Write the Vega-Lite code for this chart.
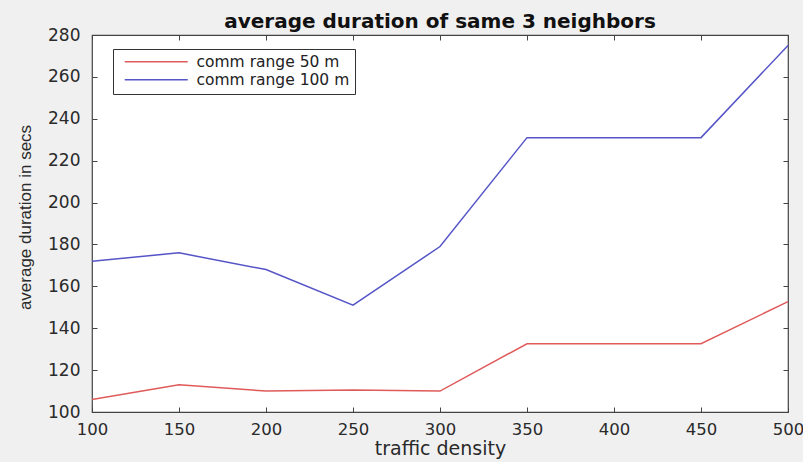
{
  "$schema": "https://vega.github.io/schema/vega-lite/v6.json",
  "width": 696,
  "height": 377,
  "autosize": {"type": "none"},
  "padding": {"left": 92, "top": 35, "right": 15, "bottom": 50},
  "background": "#f0f0f0",
  "title": {"text": "average duration of same 3 neighbors", "font": "DejaVu Sans", "fontSize": 20, "fontWeight": "bold", "color": "#111111", "offset": -6},
  "config": {
    "view": {"fill": "white", "stroke": "#444444", "strokeWidth": 1.2},
    "axis": {"grid": false, "domain": false, "tickColor": "#444444", "tickSize": -5, "labelFlush": false, "labelFont": "DejaVu Sans", "labelFontSize": 17, "labelColor": "#2a2a2a", "titleFont": "DejaVu Sans", "titleFontSize": 16, "titleFontWeight": "normal", "titleColor": "#2a2a2a"}
  },
  "data": {"values": [
    {"density": 100, "duration": 106, "series": "comm range 50 m"},
    {"density": 150, "duration": 113, "series": "comm range 50 m"},
    {"density": 200, "duration": 110, "series": "comm range 50 m"},
    {"density": 250, "duration": 110.5, "series": "comm range 50 m"},
    {"density": 300, "duration": 110, "series": "comm range 50 m"},
    {"density": 350, "duration": 132.6, "series": "comm range 50 m"},
    {"density": 400, "duration": 132.6, "series": "comm range 50 m"},
    {"density": 450, "duration": 132.6, "series": "comm range 50 m"},
    {"density": 500, "duration": 152.7, "series": "comm range 50 m"},
    {"density": 100, "duration": 172, "series": "comm range 100 m"},
    {"density": 150, "duration": 176, "series": "comm range 100 m"},
    {"density": 200, "duration": 168, "series": "comm range 100 m"},
    {"density": 250, "duration": 151, "series": "comm range 100 m"},
    {"density": 300, "duration": 179, "series": "comm range 100 m"},
    {"density": 350, "duration": 231, "series": "comm range 100 m"},
    {"density": 400, "duration": 231, "series": "comm range 100 m"},
    {"density": 450, "duration": 231, "series": "comm range 100 m"},
    {"density": 500, "duration": 275, "series": "comm range 100 m"}
  ]},
  "layer": [
    {
      "mark": {"type": "line", "strokeWidth": 1.5},
      "encoding": {
        "x": {"field": "density", "type": "quantitative", "scale": {"domain": [100, 500], "nice": false, "zero": false}, "axis": {"values": [100, 150, 200, 250, 300, 350, 400, 450, 500], "labelFontSize": 16.5, "labelPadding": 14, "title": "traffic density", "titleFontSize": 19, "titlePadding": 2}},
        "y": {"field": "duration", "type": "quantitative", "scale": {"domain": [100, 280], "nice": false, "zero": false}, "axis": {"values": [100, 120, 140, 160, 180, 200, 220, 240, 260, 280], "labelPadding": 17, "title": "average duration in secs", "titleFont": "Liberation Sans", "titleFontSize": 17, "titlePadding": 13, "titleY": 182}},
        "color": {"field": "series", "type": "nominal", "sort": ["comm range 50 m", "comm range 100 m"], "scale": {"domain": ["comm range 50 m", "comm range 100 m"], "range": ["#e05a5a", "#5555c8"]},
          "legend": {"title": null, "orient": "none", "legendX": 21, "legendY": 14, "symbolType": "M-0.25,0H15.5", "symbolSize": 64, "symbolStrokeWidth": 1.5, "labelFont": "DejaVu Sans", "labelFontSize": 15.5, "labelColor": "#222222", "labelOffset": 63, "strokeColor": "#333333", "fillColor": "white", "padding": 5, "rowPadding": 1}}
      }
    },
    {
      "mark": {"type": "line", "opacity": 0},
      "encoding": {
        "x": {"field": "density", "type": "quantitative", "axis": {"orient": "top", "values": [100, 150, 200, 250, 300, 350, 400, 450, 500], "labels": false, "title": null}},
        "y": {"field": "duration", "type": "quantitative", "axis": {"orient": "right", "values": [100, 120, 140, 160, 180, 200, 220, 240, 260, 280], "labels": false, "title": null}},
        "detail": {"field": "series"}
      }
    }
  ],
  "resolve": {"axis": {"x": "independent", "y": "independent"}}
}
